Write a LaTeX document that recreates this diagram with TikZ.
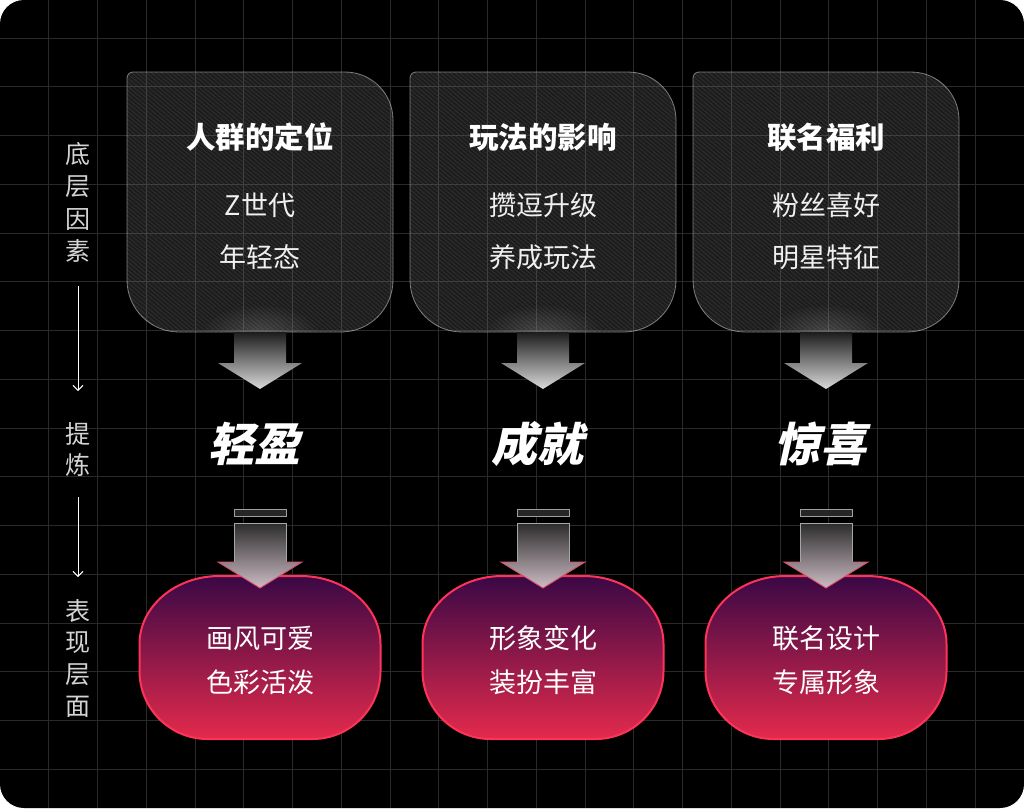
\documentclass[tikz,border=0pt]{standalone}
\usepackage{fontspec}
\setmainfont{Noto Sans CJK SC}
\newfontfamily\cjk{Noto Sans CJK SC}
\usetikzlibrary{patterns.meta,fadings,arrows.meta}
\definecolor{gridc}{HTML}{2A2A2A}
\definecolor{pilltop}{HTML}{3A0845}
\definecolor{pillmid}{HTML}{8A1262}
\definecolor{pillbot}{HTML}{E42A4C}
\definecolor{pillline}{HTML}{FF3358}
\definecolor{labc}{HTML}{D4D4D4}
\definecolor{arrtop}{HTML}{1C1C1C}
\definecolor{arrbot}{HTML}{DADADA}
\definecolor{arr2top}{HTML}{2C2C2C}
\definecolor{arr2bot}{HTML}{CDBDC5}
\definecolor{arr2line}{HTML}{E0506E}
\definecolor{stripec}{HTML}{3A3A3A}
\tikzfading[name=glowfade, inner color=transparent!0, outer color=transparent!100]
\tikzset{
  cardp/.style={insert path={(#1-133,78) arc[start angle=180,end angle=270,radius=6] -- (#1+85,72) arc[start angle=270,end angle=360,radius=48] -- (#1+133,280) arc[start angle=0,end angle=90,radius=52] -- (#1-81,332) arc[start angle=90,end angle=180,radius=52] -- cycle}},
  pillp/.style={insert path={(#1-120.5,644) arc[start angle=180,end angle=270,x radius=80,y radius=68] -- (#1+40.5,576) arc[start angle=270,end angle=360,x radius=80,y radius=68] -- (#1+120.5,671) arc[start angle=0,end angle=90,x radius=68,y radius=68] -- (#1-52.5,739) arc[start angle=90,end angle=180,x radius=68,y radius=68] -- cycle}},
  titletxt/.style={text=white, inner sep=0pt, font=\cjk\fontsize{29.5}{29.5}\selectfont\bfseries},
  subtxt/.style={text=white!94!black, inner sep=0pt, font=\cjk\fontsize{27}{27}\selectfont},
  bigtxt/.style={text=white, inner sep=0pt, font=\cjk\fontsize{46}{46}\selectfont\bfseries},
  pilltxt/.style={text=white, inner sep=0pt, font=\cjk\fontsize{27}{27}\selectfont},
  labtxt/.style={text=labc, inner sep=0pt, font=\cjk\fontsize{25}{25}\selectfont},
  labarrow/.style={draw=white, line width=0.9pt, -{Straight Barb[length=5pt,width=10pt,line width=0.9pt]}},
}
\begin{document}
\begin{tikzpicture}[x=1pt,y=-1pt]
\useasboundingbox (0,0) rectangle (1024,808);
\fill[white] (0,0) rectangle (1024,808);
\fill[black, rounded corners=24pt] (0,0) rectangle (1024,808);
\begin{scope}
  \clip[rounded corners=24pt] (0,0) rectangle (1024,808);
  \foreach \k in {1,...,20} \draw[gridc, line width=1pt] ({\k*48.762},0) -- ({\k*48.762},808);
  \foreach \k in {0,...,15} \draw[gridc, line width=1pt] (0,{38.1+\k*48.76}) -- (1024,{38.1+\k*48.76});
\end{scope}
% cards
\foreach \c in {260,543,826} {
  \fill[white, fill opacity=0.11, cardp=\c];
  \begin{scope}[transparency group, opacity=0.6]
    \fill[pattern={Lines[angle=-40,distance=3.2pt,line width=1pt]}, pattern color=stripec, cardp=\c];
  \end{scope}
  \begin{scope}
    \clip[cardp=\c];
    \fill[white, fill opacity=0.18, path fading=glowfade] (\c,334) ellipse[x radius=60,y radius=30];
  \end{scope}
  \draw[white, draw opacity=0.45, line width=0.8pt, cardp=\c];
  % top arrow
  \shade[top color=arrtop, bottom color=arrbot] (\c-26,332) -- (\c+26,332) -- (\c+26,363) -- (\c+42,363) -- (\c,389) -- (\c-42,363) -- (\c-26,363) -- cycle;
  % pill
  \shade[top color=pilltop, middle color=pillmid, bottom color=pillbot, pillp=\c];
  \draw[pillline, line width=2pt, pillp=\c];
  % bar and lower arrow
  \draw[fill=black!85, draw=gray!75, line width=0.9pt] (\c-26,509) rectangle (\c+26,516);
  \shade[top color=arr2top, bottom color=arr2bot] (\c-26,523) -- (\c+26,523) -- (\c+26,562) -- (\c+42,562) -- (\c,588) -- (\c-42,562) -- (\c-26,562) -- cycle;
  \draw[gray!70, line width=0.9pt] (\c-26,562) -- (\c-26,523) -- (\c+26,523) -- (\c+26,562);
  \draw[arr2line, line width=0.9pt] (\c+26,562) -- (\c+42,562) -- (\c,588) -- (\c-42,562) -- (\c-26,562);
}
% card texts
\node[titletxt] (t1) at (260,137) {人群的定位};
\node[subtxt] (s1a) at (260,205) {Z世代};
\node[subtxt] (s1b) at (260,257) {年轻态};
\node[titletxt] (t2) at (543,137) {玩法的影响};
\node[subtxt] (s2a) at (543,205) {攒逗升级};
\node[subtxt] (s2b) at (543,257) {养成玩法};
\node[titletxt] (t3) at (826,137) {联名福利};
\node[subtxt] (s3a) at (826,205) {粉丝喜好};
\node[subtxt] (s3b) at (826,257) {明星特征};
% big words
\begin{scope}[shift={(258,444)}, xslant=0.22]
  \node[bigtxt, transform shape] (k1) at (0,0) {轻盈};
\end{scope}
\begin{scope}[shift={(541,444)}, xslant=0.22]
  \node[bigtxt, transform shape] (k2) at (0,0) {成就};
\end{scope}
\begin{scope}[shift={(824,444)}, xslant=0.22]
  \node[bigtxt, transform shape] (k3) at (0,0) {惊喜};
\end{scope}
% pill texts
\node[pilltxt] (p1a) at (260,638) {画风可爱};
\node[pilltxt] (p1b) at (260,682) {色彩活泼};
\node[pilltxt] (p2a) at (543,638) {形象变化};
\node[pilltxt] (p2b) at (543,682) {装扮丰富};
\node[pilltxt] (p3a) at (826,638) {联名设计};
\node[pilltxt] (p3b) at (826,682) {专属形象};
% left labels
\node[labtxt] (l1) at (78,154) {底};
\node[labtxt] (l2) at (78,186.5) {层};
\node[labtxt] (l3) at (78,219) {因};
\node[labtxt] (l4) at (78,251) {素};
\node[labtxt] (l5) at (78,434) {提};
\node[labtxt] (l6) at (78,465) {炼};
\node[labtxt] (l7) at (78,611) {表};
\node[labtxt] (l8) at (78,643) {现};
\node[labtxt] (l9) at (78,675) {层};
\node[labtxt] (l10) at (78,707) {面};
\coordinate (a1s) at (78,286);
\coordinate (a1e) at (78,391);
\coordinate (a2s) at (78,497);
\coordinate (a2e) at (78,577);
\draw[labarrow] (a1s) -- (a1e);
\draw[labarrow] (a2s) -- (a2e);
\end{tikzpicture}
\end{document}
